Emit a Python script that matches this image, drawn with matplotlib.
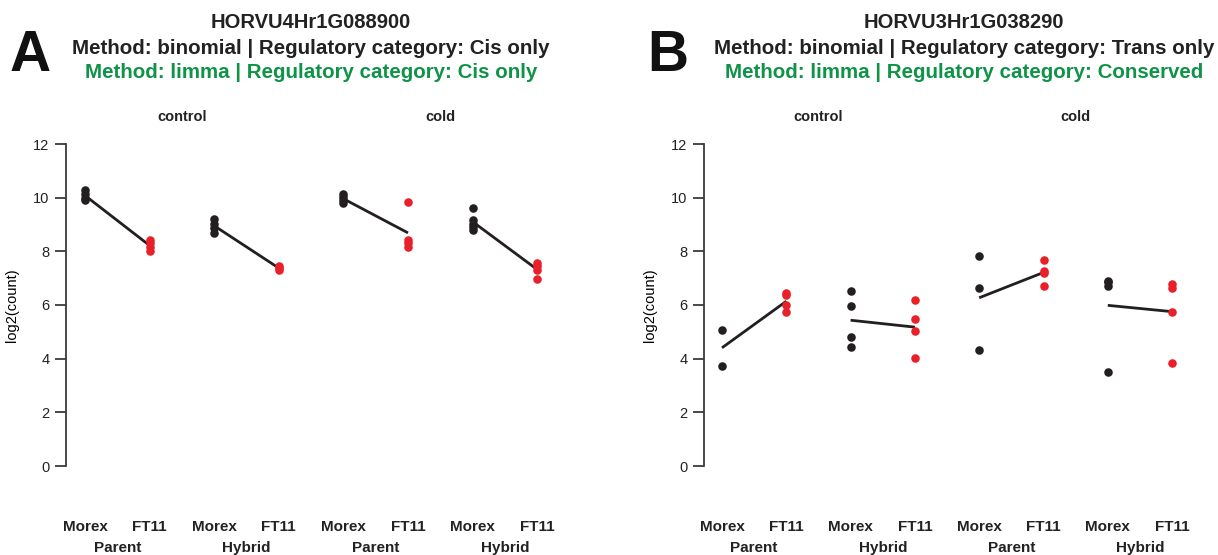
import matplotlib
matplotlib.use("Agg")
import matplotlib.pyplot as plt
import matplotlib.transforms as mtransforms
import numpy as np

plt.rcParams['font.family'] = ['Liberation Sans Narrow', 'Liberation Sans', 'DejaVu Sans']

# ---------------- data ----------------
conditions = ["control", "cold"]
generations = ["Parent", "Hybrid"]
genotypes = ["Morex", "FT11"]

# Panel A : HORVU4Hr1G088900  (order: control-Parent, control-Hybrid, cold-Parent, cold-Hybrid)
A_morex = [
    [10.27, 10.12, 10.0, 9.93],
    [9.2, 9.03, 8.88, 8.7],
    [10.12, 10.02, 9.9, 9.8],
    [9.63, 9.16, 9.03, 8.9, 8.8],
]
A_ft11 = [
    [8.42, 8.3, 8.15, 8.0],
    [7.45, 7.38, 7.3],
    [9.85, 8.42, 8.3, 8.18],
    [7.55, 7.45, 7.32, 6.97],
]
# Panel B : HORVU3Hr1G038290
B_morex = [
    [5.08, 3.73],
    [6.53, 5.95, 4.8, 4.45],
    [7.83, 6.65, 4.33],
    [6.9, 6.85, 6.7, 3.5],
]
B_ft11 = [
    [6.45, 6.38, 6.0, 5.73],
    [6.17, 5.48, 5.03, 4.02],
    [7.67, 7.28, 7.18, 6.72],
    [6.78, 6.65, 5.73, 3.85],
]

titles_A = ["HORVU4Hr1G088900",
            "Method: binomial | Regulatory category: Cis only",
            "Method: limma | Regulatory category: Cis only"]
titles_B = ["HORVU3Hr1G038290",
            "Method: binomial | Regulatory category: Trans only",
            "Method: limma | Regulatory category: Conserved"]
yticks = [0, 2, 4, 6, 8, 10, 12]

BLACK = "#231f20"
RED = "#e8202a"
GREEN = "#0f9447"

W, H = 1218, 555
fig = plt.figure(figsize=(W / 100, H / 100), dpi=100)


def px_box(x0, x1, y_top, y_bot):
    return [x0 / W, 1 - y_bot / H, (x1 - x0) / W, (y_bot - y_top) / H]


def draw_panel(letter, letter_x, x_first, step, axis_x, right_x, morex, ft11, titles, title_cx):
    ppu = (466 - 144) / 12.0
    pad_top, pad_bot = 14, 14
    ax = fig.add_axes(px_box(axis_x, right_x, 144 - pad_top, 466 + pad_bot))
    xmin = (axis_x - x_first) / step
    xmax = (right_x - x_first) / step
    ax.set_xlim(xmin, xmax)
    ax.set_ylim(-pad_bot / ppu, 12 + pad_top / ppu)
    for s in ["top", "right", "bottom"]:
        ax.spines[s].set_visible(False)
    ax.spines["left"].set_bounds(0, 12)
    ax.spines["left"].set_color("#3a3a3a")
    ax.spines["left"].set_linewidth(1.3)
    ax.set_xticks([])
    ax.set_yticks(yticks)
    ax.tick_params(axis="y", length=8, width=1.3, color="#3a3a3a", labelsize=10.5, pad=4,
                   labelcolor="#222222")
    for lab in ax.get_yticklabels():
        lab.set_family(['Liberation Sans', 'DejaVu Sans'])
    ax.set_ylabel("log2(count)", fontsize=10.5, family=['Liberation Sans', 'DejaVu Sans'],
                  labelpad=10)

    tr = mtransforms.blended_transform_factory(ax.transData, fig.transFigure)
    for g in range(4):
        xm = 2 * g
        xf = 2 * g + 1
        m = np.array(morex[g])
        f = np.array(ft11[g])
        ax.plot([xm, xf], [m.mean(), f.mean()], color=BLACK, lw=2.0, zorder=2,
                solid_capstyle="butt", clip_on=False)
        ax.scatter(np.full(len(m), xm), m, s=38, color=BLACK, zorder=3, linewidths=0, clip_on=False)
        ax.scatter(np.full(len(f), xf), f, s=38, color=RED, zorder=3, linewidths=0, clip_on=False)
        ax.text(xm, 1 - 527 / H, genotypes[0], transform=tr, ha="center", va="center",
                fontsize=11, fontweight="bold", color="#222222")
        ax.text(xf, 1 - 527 / H, genotypes[1], transform=tr, ha="center", va="center",
                fontsize=11, fontweight="bold", color="#222222")
        ax.text(xm + 0.5, 1 - 548 / H, generations[g % 2], transform=tr, ha="center", va="center",
                fontsize=11, fontweight="bold", color="#222222")
    for c in range(2):
        ax.text(4 * c + 1.5, 1 - 117 / H, conditions[c], transform=tr, ha="center", va="center",
                fontsize=10.5, fontweight="bold", color="#222222")

    fig.text(letter_x / W, 1 - 56 / H, letter, ha="center", va="center", fontsize=41,
             fontweight="bold", family=['Liberation Sans', 'DejaVu Sans'], color="#111111")
    fig.text(title_cx / W, 1 - 22 / H, titles[0], ha="center", va="center", fontsize=14.5,
             fontweight="bold", color="#222222")
    fig.text(title_cx / W, 1 - 48 / H, titles[1], ha="center", va="center", fontsize=14.8,
             fontweight="bold", color="#222222")
    fig.text(title_cx / W, 1 - 73 / H, titles[2], ha="center", va="center", fontsize=14.8,
             fontweight="bold", color=GREEN)
    return ax


draw_panel("A", 30, 85, 64.6, 66, 565, A_morex, A_ft11, titles_A, 311)
draw_panel("B", 668, 722, 64.3, 704, 1205, B_morex, B_ft11, titles_B, 964)

fig.savefig("out.png", dpi=100)
